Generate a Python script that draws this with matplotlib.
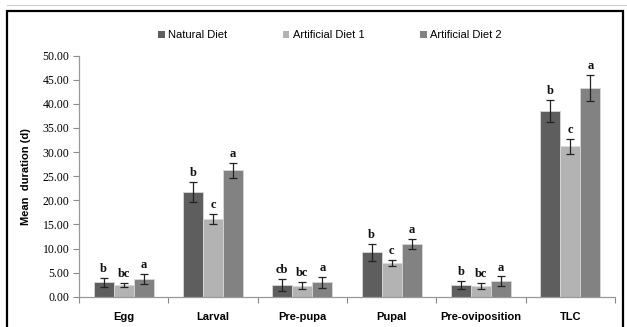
import matplotlib
matplotlib.use("Agg")
import matplotlib.pyplot as plt
import numpy as np
from matplotlib.patches import Rectangle, Patch

categories = ["Egg", "Larval", "Pre-pupa", "Pupal", "Pre-oviposition", "TLC"]
series_names = ["Natural Diet", "Artificial Diet 1", "Artificial Diet 2"]
natural = [3.0, 21.7, 2.4, 9.2, 2.4, 38.6]
natural_err = [0.9, 2.05, 1.2, 1.7, 0.9, 2.3]
art1 = [2.5, 16.1, 2.3, 7.0, 2.2, 31.2]
art1_err = [0.4, 1.0, 0.7, 0.7, 0.6, 1.6]
art2 = [3.7, 26.2, 3.0, 10.9, 3.2, 43.3]
art2_err = [1.0, 1.6, 1.1, 1.0, 1.0, 2.7]
letters_nat = ["b", "b", "cb", "b", "b", "b"]
letters_a1 = ["bc", "c", "bc", "c", "bc", "c"]
letters_a2 = ["a", "a", "a", "a", "a", "a"]
yticks = [0, 5, 10, 15, 20, 25, 30, 35, 40, 45, 50]

colors = ["#5e5e5e", "#b3b3b3", "#828282"]

fig = plt.figure(figsize=(6.27, 3.27), dpi=100)
# outer frame
fig.patches.append(Rectangle((7/627, -0.05), (623-7)/627, 1.05 - 11/327,
                             transform=fig.transFigure, fill=False,
                             edgecolor="black", linewidth=1.6, zorder=0))
fig.lines.append(plt.Line2D([7/627, 1.0], [1-5/327, 1-5/327], transform=fig.transFigure,
                            color="#cccccc", linewidth=0.8))

ax = fig.add_axes([79/627, 1-296.7/327, (615-79)/627, (296.7-55.7)/327])
x = np.arange(len(categories))
w = 0.225
data = [(natural, natural_err, letters_nat), (art1, art1_err, letters_a1), (art2, art2_err, letters_a2)]
for k, (vals, errs, lets) in enumerate(data):
    pos = x + (k - 1) * w
    ax.bar(pos, vals, width=w, color=colors[k], edgecolor="#d8d8d8", linewidth=0.6,
           zorder=2, label=series_names[k])
    ax.errorbar(pos, vals, yerr=errs, fmt="none", ecolor="#222222", elinewidth=0.9,
                capsize=3, capthick=0.9, zorder=3)
    for p, v, e, t in zip(pos, vals, errs, lets):
        ax.text(p, v + e + 0.6, t, ha="center", va="bottom", fontsize=9,
                family="Liberation Serif", fontweight="bold", color="#111111")

ax.set_xlim(-0.5, len(categories) - 0.5)
ax.set_ylim(0, 50)
ax.set_yticks(yticks)
ax.set_yticklabels([f"{v:.2f}" for v in yticks], family="Liberation Serif", fontsize=8.5)
ax.set_xticks(np.arange(-0.5, len(categories), 1.0))
ax.set_xticklabels([])
ax.set_xticks(x, minor=True)
ax.set_xticklabels(categories, minor=True, family="Liberation Sans", fontweight="bold", fontsize=8)
ax.tick_params(axis="x", which="minor", length=0, pad=11)
ax.tick_params(axis="x", which="major", length=4, color="#888888", direction="out")
ax.tick_params(axis="y", length=4, color="#888888", pad=3)
for s in ["top", "right"]:
    ax.spines[s].set_visible(False)
for s in ["left", "bottom"]:
    ax.spines[s].set_color("#999999")
    ax.spines[s].set_linewidth(0.9)
ax.set_ylabel("Mean  duration (d)", family="Liberation Sans", fontweight="bold", fontsize=8, labelpad=8)

handles = [Patch(facecolor=c, edgecolor="none") for c in colors]
fig.legend(handles, series_names, loc="center", bbox_to_anchor=(0.526, 1-35/327), ncol=3,
           frameon=False, handlelength=0.6, handleheight=0.6, handletextpad=0.3,
           columnspacing=5.0, prop={"family": "Liberation Sans", "size": 8})

fig.savefig("out.png", dpi=100)
